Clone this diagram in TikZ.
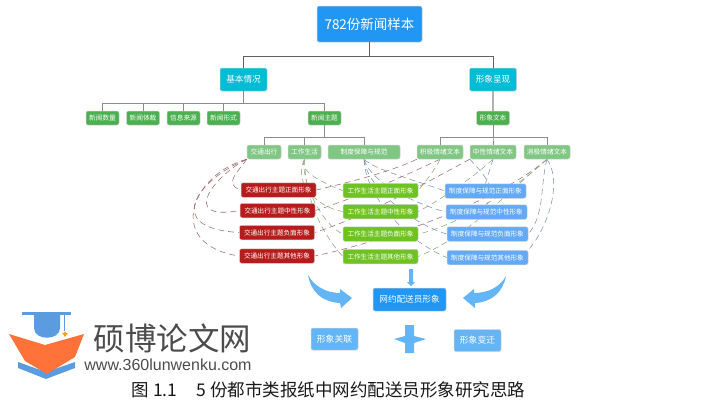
\documentclass[tikz,border=0pt]{standalone}
\usepackage{fontspec}
\setmainfont{Noto Sans CJK SC}
\newfontfamily\latinfont{Liberation Sans}
\usetikzlibrary{backgrounds}
\definecolor{rootblue}{HTML}{2196F3}
\definecolor{headcyan}{HTML}{00BCD4}
\definecolor{itemgreen}{HTML}{4CAF50}
\definecolor{softgreen}{HTML}{81C784}
\definecolor{imgred}{HTML}{B71C1C}
\definecolor{imglime}{HTML}{6FC320}
\definecolor{imgblue}{HTML}{64A9F5}
\definecolor{arrowblue}{HTML}{64B5F6}
\definecolor{reddash}{HTML}{9A6B6F}
\definecolor{limedash}{HTML}{8FA67F}
\definecolor{bluedash}{HTML}{7F93AE}
\definecolor{logoorange}{HTML}{FF7239}
\definecolor{logoblue}{HTML}{5B9BE0}
\tikzset{
    box/.style={draw=black!18,line width=.5pt,rounded corners=2pt,inner sep=0pt,text=white,align=center},
    rootbox/.style={box,fill=rootblue,minimum width=105pt,minimum height=36pt,font=\fontsize{13.5}{15}\selectfont},
    headbox/.style={box,fill=headcyan,minimum width=47pt,minimum height=23pt,font=\fontsize{8.6}{10}\selectfont},
    itembox/.style={box,fill=itemgreen,minimum width=33pt,minimum height=14pt,font=\fontsize{6.7}{8}\selectfont},
    softbox/.style={box,fill=softgreen,minimum height=14pt,font=\fontsize{6.7}{8}\selectfont},
    redbox/.style={box,fill=imgred,minimum width=75pt,minimum height=14.5pt,font=\fontsize{6.6}{8}\selectfont},
    limebox/.style={box,fill=imglime,minimum width=75pt,minimum height=14.5pt,font=\fontsize{6.6}{8}\selectfont},
    bluebox/.style={box,fill=imgblue,minimum width=81pt,minimum height=14.5pt,font=\fontsize{6.6}{8}\selectfont},
    finalbox/.style={box,fill=arrowblue,minimum width=47pt,minimum height=22pt,font=\fontsize{8.8}{10}\selectfont},
    tree/.style={draw=black!45,line width=.8pt,to path={-- ++(0,#1) -| (\tikztotarget)}},
    tree/.default=12,
    dashline/.style={dashed,dash pattern=on 6pt off 4pt,line width=.55pt},
}
\begin{document}
\begin{tikzpicture}[x=1pt,y=-1pt]
    \useasboundingbox (0,0) rectangle (721,402);
    % top of the tree
    \node[rootbox] (root) at (369.5,24) {782份新闻样本};
    \node[headbox] (basic) at (243.5,79.5) {基本情况};
    \node[headbox] (present) at (493,79.5) {形象呈现};
    \node[itembox] (count) at (102.5,118) {新闻数量};
    \node[itembox] (genre) at (143,118) {新闻体裁};
    \node[itembox] (source) at (183.5,118) {信息来源};
    \node[itembox] (form) at (223.5,118) {新闻形式};
    \node[itembox] (topic) at (324.5,118) {新闻主题};
    \node[itembox] (text) at (493,118) {形象文本};
    \node[softbox,minimum width=34pt] (trip) at (264,152) {交通出行};
    \node[softbox,minimum width=33pt] (work) at (304.5,152) {工作生活};
    \node[softbox,minimum width=72pt] (rule) at (364,152) {制度保障与规范};
    \node[softbox,minimum width=46pt] (pos) at (440,152) {积极情绪文本};
    \node[softbox,minimum width=46pt] (neu) at (493,152) {中性情绪文本};
    \node[softbox,minimum width=46pt] (neg) at (547,152) {消极情绪文本};
    % three columns
    \node[redbox] (red1) at (278.5,190) {交通出行主题正面形象};
    \node[redbox] (red2) at (277.5,210.5) {交通出行主题中性形象};
    \node[redbox] (red3) at (277,232.5) {交通出行主题负面形象};
    \node[redbox] (red4) at (277,256) {交通出行主题其他形象};
    \node[limebox] (lime1) at (380.5,190.5) {工作生活主题正面形象};
    \node[limebox] (lime2) at (380.5,211.5) {工作生活主题中性形象};
    \node[limebox] (lime3) at (380.5,234) {工作生活主题负面形象};
    \node[limebox] (lime4) at (380.5,256.5) {工作生活主题其他形象};
    \node[bluebox] (blue1) at (485.5,191) {制度保障与规范正面形象};
    \node[bluebox] (blue2) at (486.5,212) {制度保障与规范中性形象};
    \node[bluebox] (blue3) at (487.5,234) {制度保障与规范负面形象};
    \node[bluebox] (blue4) at (487.5,257.5) {制度保障与规范其他形象};
    % bottom
    \node[box,fill=rootblue,minimum width=73pt,minimum height=23pt,font=\fontsize{8.6}{10}\selectfont] (image) at (409.5,299.5) {网约配送员形象};
    \node[finalbox] (link) at (334.5,339) {形象关联};
    \node[finalbox] (change) at (477.5,340.5) {形象变迁};
    \path[tree=14,draw=black!62]
        (root.south) edge (basic.north)
        (root.south) edge (present.north);
    \path[tree]
        (basic.south) edge (count.north)
        (basic.south) edge (genre.north)
        (basic.south) edge (source.north)
        (basic.south) edge (form.north)
        (basic.south) edge (topic.north)
        (topic.south) edge (trip.north)
        (topic.south) edge (work.north)
        (topic.south) edge (rule.north)
        (text.south) edge (pos.north)
        (text.south) edge (neu.north)
        (text.south) edge (neg.north);
    \draw[draw=black!30,line width=1.2pt] (present.south) -- (text.north);
    \begin{scope}[on background layer]
        % topics to images
        \draw[dashline,reddash] (trip.south west) .. controls (240,170) and (222,184) .. (red1.west);
        \draw[dashline,reddash] (trip.south west) .. controls (215,175) and (178,222) .. (red2.west);
        \draw[dashline,reddash] (trip.south west) .. controls (200,178) and (160,228) .. (red3.west);
        \draw[dashline,reddash] (trip.south west) .. controls (190,175) and (165,245) .. (red4.west);
        \draw[dashline,limedash] (work.south) .. controls (298,170) and (320,182) .. (lime1.west);
        \draw[dashline,limedash] (work.south) .. controls (292,185) and (320,208) .. (lime2.west);
        \draw[dashline,limedash] (work.south) .. controls (300,180) and (322,225) .. (lime3.west);
        \draw[dashline,limedash] (work.south) .. controls (305,190) and (315,225) .. (lime4.west);
        \draw[dashline,bluedash] (rule.south) .. controls (375,170) and (415,180) .. (blue1.west);
        \draw[dashline,bluedash] (rule.south) .. controls (372,185) and (420,205) .. (blue2.west);
        \draw[dashline,bluedash] (rule.south) .. controls (368,190) and (415,225) .. (blue3.west);
        \draw[dashline,bluedash] (rule.south) .. controls (365,195) and (405,240) .. (blue4.west);
        % emotions to images
        \draw[dashline,reddash] (pos.south west) .. controls (390,172) and (350,182) .. (red1.east);
        \draw[dashline,reddash] (pos.south) .. controls (400,178) and (350,200) .. (red2.east);
        \draw[dashline,reddash] (neu.south west) .. controls (440,175) and (370,215) .. (red3.east);
        \draw[dashline,reddash] (neg.south) .. controls (500,200) and (390,240) .. (red4.east);
        \draw[dashline,limedash] (pos.south) .. controls (435,170) and (425,182) .. (lime1.east);
        \draw[dashline,limedash] (neu.south) .. controls (470,180) and (440,200) .. (lime2.east);
        \draw[dashline,limedash] (neg.south) .. controls (520,185) and (460,225) .. (lime3.east);
        \draw[dashline,limedash] (neg.south) .. controls (510,190) and (470,235) .. (lime4.east);
        \draw[dashline,bluedash] (neu.south) -- (blue1.north);
        \draw[dashline,bluedash] (neu.south west) .. controls (480,170) and (500,190) .. (blue2.north);
        \draw[dashline,bluedash] (neg.south) .. controls (540,185) and (545,215) .. (blue3.east);
        \draw[dashline,bluedash] (neg.south) .. controls (562,180) and (550,225) .. (blue4.north east);
    \end{scope}
    % block arrows
    \fill[arrowblue] (409,269) -- (413,269) -- (413,282) -- (415,282) -- (411,286) -- (407,282) -- (409,282) -- cycle;
    \fill[arrowblue] (308,275) .. controls (314,286) and (326,293) .. (340,293) -- (340,289) -- (352,298) -- (341,308) -- (340,303) .. controls (322,302) and (311,292) .. cycle;
    \fill[arrowblue] (506,276) .. controls (500,287) and (488,293) .. (474,293) -- (474,289) -- (463,298) -- (475,308) -- (475,303) .. controls (492,302) and (503,292) .. cycle;
    \fill[arrowblue] (405,325) -- (414,325) -- (414,336) -- (426,339) -- (414,343) -- (414,353) -- (405,353) -- (405,343) -- (394,339) -- (405,336) -- cycle;
    % logo
    \fill[logoblue] (22,312) rectangle (71,315);
    \fill[logoblue] (34,315) -- (60,315) -- (60,328) .. controls (60,341) and (34,341) .. (34,328) -- cycle;
    \draw[logoblue,line width=.7pt] (64,315) -- (64,331);
    \fill[orange!80!yellow] (65,331) -- (66,333) -- (68,333.5) -- (66,335) -- (65,337) -- (64,335) -- (62,333.5) -- (64,333) -- cycle;
    \fill[logoblue] (18,362) -- (46,372) -- (75,362) -- (75,368) -- (46,379) -- (18,368) -- cycle;
    \fill[logoorange] (9,334) -- (45,345) -- (84,334) -- (75,357) -- (47,374) -- (25,361) -- cycle;
    \node[text=black!70,font=\fontsize{31.5}{33}\selectfont] (logotext) at (172.5,338.5) {硕博论文网};
    \node[text=black!70,font=\latinfont\fontsize{16}{18}\selectfont] (logourl) at (168,365) {www.360lunwenku.com};
    \node[text=black!90,font=\fontsize{17.5}{19}\selectfont] (caption) at (328.5,389.5) {图\ 1.1\hspace{19pt}5\ 份都市类报纸中网约配送员形象研究思路};
\end{tikzpicture}
\end{document}
